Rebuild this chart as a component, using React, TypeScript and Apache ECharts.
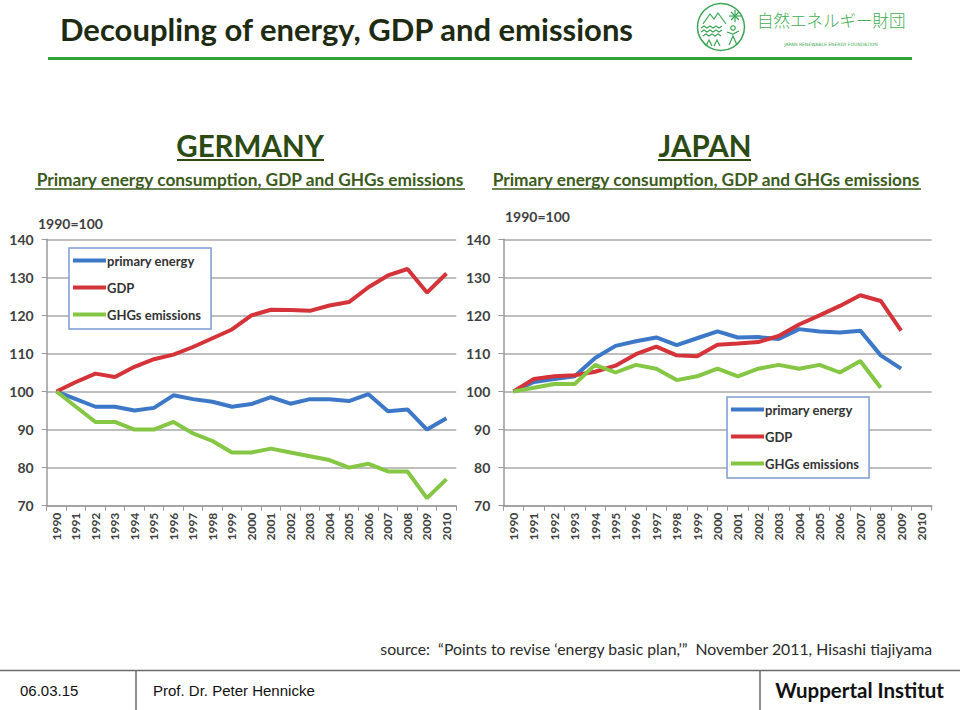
import React, { useEffect, useRef } from "react";
import * as echarts from "echarts";

const years = ["1990","1991","1992","1993","1994","1995","1996","1997","1998","1999","2000","2001","2002","2003","2004","2005","2006","2007","2008","2009","2010"];
const seriesNames = ["primary energy", "GDP", "GHGs emissions"];

const deEnergy = [100, 98, 96, 96, 95, 95.7, 99, 98, 97.3, 96, 96.7, 98.5, 96.8, 98, 98, 97.5, 99.3, 94.8, 95.3, 90, 93];
const deGdp = [100, 102.5, 104.7, 103.8, 106.5, 108.5, 109.7, 111.7, 114, 116.3, 120, 121.5, 121.4, 121.2, 122.6, 123.5, 127.4, 130.5, 132.2, 126, 131];
const deGhg = [100, 96, 92, 92, 90, 90, 92, 89, 87, 84, 84, 85, 84, 83, 82, 80, 81, 79, 79, 72, 77];

const jpEnergy = [100, 102.5, 103.3, 104, 108.8, 112, 113.2, 114.2, 112.2, 114, 115.8, 114.2, 114.3, 113.8, 116.4, 115.8, 115.5, 116, 109.5, 106, null];
const jpGdp = [100, 103.3, 104, 104.3, 105.2, 106.8, 109.8, 111.8, 109.5, 109.3, 112.3, 112.6, 113, 114.6, 117.6, 120, 122.5, 125.3, 123.8, 116, null];
const jpGhg = [100, 101, 102, 102, 107, 105, 107, 106, 103, 104, 106, 104, 106, 107, 106, 107, 105, 108, 101, null, null];

const yTicks = { min: 70, max: 140, interval: 10 };
const colors = ["#3d78c8", "#d4333a", "#85c645"];

const FONT = "Lato, 'Open Sans', sans-serif";
const labelColor = "#404040";

function makeGrid(left: number, width: number) {
  return { left, width, top: 239.3, height: 266.4, containLabel: false };
}

function xAxis(gridIndex: number) {
  return {
    type: "category",
    gridIndex,
    data: years,
    boundaryGap: true,
    axisLine: { show: true, lineStyle: { color: "#9a9a9a", width: 1.5 } },
    axisTick: { show: true, interval: 0, length: 5, lineStyle: { color: "#9a9a9a" } },
    axisLabel: { interval: 0, rotate: 90, fontFamily: FONT, fontWeight: "bold", fontSize: 12, color: labelColor, margin: 7 },
  };
}

function yAxis(gridIndex: number) {
  return {
    type: "value",
    gridIndex,
    min: yTicks.min,
    max: yTicks.max,
    interval: yTicks.interval,
    axisLine: { show: true, lineStyle: { color: "#9a9a9a", width: 1.5 } },
    axisTick: { show: true, length: 5, lineStyle: { color: "#9a9a9a" } },
    axisLabel: { fontFamily: FONT, fontWeight: "bold", fontSize: 14, color: labelColor, margin: 13 },
    splitLine: { show: true, lineStyle: { color: "#a8a8a8", width: 1.5 } },
  };
}

function lineSeries(name: string, data: (number | null)[], idx: number, color: string) {
  return {
    type: "line",
    name,
    xAxisIndex: idx,
    yAxisIndex: idx,
    data,
    symbol: "none",
    connectNulls: false,
    lineStyle: { color, width: 4 },
    itemStyle: { color },
    z: 3,
  };
}

function legend(id: string, left: number, top: number, suffix: string) {
  return {
    id,
    orient: "vertical",
    left,
    top,
    data: seriesNames.map((n) => n + suffix),
    formatter: (n: string) => (suffix ? n.slice(0, n.length - suffix.length) : n),
    icon: "rect",
    itemWidth: 33,
    itemHeight: 4,
    itemGap: 14,
    padding: [6, 10, 8, 4],
    backgroundColor: "#ffffff",
    borderColor: "#7a9cd3",
    borderWidth: 1.5,
    textStyle: { fontFamily: FONT, fontWeight: "bold", fontSize: 13, color: "#333333", padding: [0, 0, 0, -4] },
  };
}

function txt(x: number, y: number, text: string, font: string, fill: string, align = "left", vAlign = "middle") {
  return { type: "text", x, y, silent: true, style: { text, font, fill, textAlign: align, textVerticalAlign: vAlign } };
}

function hline(x1: number, x2: number, y: number, stroke: string, w: number) {
  return { type: "line", silent: true, shape: { x1, y1: y, x2, y2: y }, style: { stroke, lineWidth: w } };
}
function vline(x: number, y1: number, y2: number, stroke: string, w: number) {
  return { type: "line", silent: true, shape: { x1: x, y1, x2: x, y2 }, style: { stroke, lineWidth: w } };
}

export default function App() {
  const ref = useRef<HTMLDivElement>(null);
  useEffect(() => {
    if (!ref.current) return;
    const chart = echarts.init(ref.current, null, { renderer: "svg" });
    const logoGreen = "#3aa655";
    const option = {
      animation: false,
      backgroundColor: "#ffffff",
      grid: [makeGrid(46.7, 409.5), makeGrid(503.3, 428.4)],
      xAxis: [xAxis(0), xAxis(1)],
      yAxis: [yAxis(0), yAxis(1)],
      legend: [legend("de", 69, 248, ""), legend("jp", 727, 397, " ")],
      series: [
        lineSeries(seriesNames[0], deEnergy, 0, colors[0]),
        lineSeries(seriesNames[1], deGdp, 0, colors[1]),
        lineSeries(seriesNames[2], deGhg, 0, colors[2]),
        lineSeries(seriesNames[0] + " ", jpEnergy, 1, colors[0]),
        lineSeries(seriesNames[1] + " ", jpGdp, 1, colors[1]),
        lineSeries(seriesNames[2] + " ", jpGhg, 1, colors[2]),
      ],
      graphic: [
        // header
        txt(60, 29, "Decoupling of energy, GDP and emissions", `bold 31px ${FONT}`, "#1e2a12"),
        hline(48, 912, 58.5, "#2fa33a", 3),
        // logo
        { type: "circle", silent: true, shape: { cx: 721, cy: 27, r: 23.5 }, style: { fill: "none", stroke: logoGreen, lineWidth: 1.5 } },
        { type: "polyline", silent: true, shape: { points: [[703, 24], [710, 14], [714, 19], [718, 13], [726, 24]] }, style: { fill: "none", stroke: logoGreen, lineWidth: 1.2 } },
        { type: "polyline", silent: true, shape: { points: [[701, 28], [704, 26], [707, 28], [710, 26], [713, 28], [716, 26], [719, 28], [722, 26]] }, style: { fill: "none", stroke: logoGreen, lineWidth: 1.2 } },
        { type: "polyline", silent: true, shape: { points: [[701, 32], [704, 30], [707, 32], [710, 30], [713, 32], [716, 30], [719, 32], [722, 30]] }, style: { fill: "none", stroke: logoGreen, lineWidth: 1.2 } },
        { type: "polyline", silent: true, shape: { points: [[703, 36], [706, 34], [709, 36], [712, 34], [715, 36], [718, 34], [721, 36]] }, style: { fill: "none", stroke: logoGreen, lineWidth: 1.2 } },
        { type: "polyline", silent: true, shape: { points: [[706, 46], [709, 40], [712, 46]] }, style: { fill: "none", stroke: logoGreen, lineWidth: 1.2 } },
        { type: "polyline", silent: true, shape: { points: [[714, 46], [717, 40], [720, 46]] }, style: { fill: "none", stroke: logoGreen, lineWidth: 1.2 } },
        { type: "line", silent: true, shape: { x1: 735, y1: 10, x2: 735, y2: 22 }, style: { stroke: logoGreen, lineWidth: 1.2 } },
        { type: "line", silent: true, shape: { x1: 729, y1: 16, x2: 741, y2: 16 }, style: { stroke: logoGreen, lineWidth: 1.2 } },
        { type: "line", silent: true, shape: { x1: 731, y1: 12, x2: 739, y2: 20 }, style: { stroke: logoGreen, lineWidth: 1.2 } },
        { type: "line", silent: true, shape: { x1: 739, y1: 12, x2: 731, y2: 20 }, style: { stroke: logoGreen, lineWidth: 1.2 } },
        { type: "circle", silent: true, shape: { cx: 733, cy: 28, r: 2.2 }, style: { fill: "none", stroke: logoGreen, lineWidth: 1.2 } },
        { type: "polyline", silent: true, shape: { points: [[727, 32], [733, 34], [739, 31]] }, style: { fill: "none", stroke: logoGreen, lineWidth: 1.2 } },
        { type: "polyline", silent: true, shape: { points: [[729, 45], [733, 36], [737, 45]] }, style: { fill: "none", stroke: logoGreen, lineWidth: 1.2 } },
        txt(757, 20, "自然エネルギー財団", `300 16.5px 'Noto Sans CJK JP', sans-serif`, "#45ad55"),
        txt(831, 44, "JAPAN RENEWABLE ENERGY FOUNDATION", `4.5px 'DejaVu Sans', sans-serif`, "#45ad55", "center"),
        // panel headings
        txt(250, 145, "GERMANY", `bold 29.5px ${FONT}`, "#2c4a14", "center"),
        hline(177, 324, 160, "#2c4a14", 2),
        txt(250, 179, "Primary energy consumption, GDP and GHGs emissions", `bold 17.3px ${FONT}`, "#3b5a1c", "center"),
        hline(35, 465, 189, "#3b5a1c", 1.5),
        txt(705, 145, "JAPAN", `bold 29.5px ${FONT}`, "#2c4a14", "center"),
        hline(658, 751, 160, "#2c4a14", 2),
        txt(706, 179, "Primary energy consumption, GDP and GHGs emissions", `bold 17.3px ${FONT}`, "#3b5a1c", "center"),
        hline(492, 921, 189, "#3b5a1c", 1.5),
        txt(38, 223, "1990=100", `bold 14px ${FONT}`, "#404040"),
        txt(505, 216, "1990=100", `bold 14px ${FONT}`, "#404040"),
        // source
        txt(932, 648, "source:  \u201CPoints to revise \u2018energy basic plan,\u2019\u201D  November 2011, Hisashi tiajiyama", `15.8px ${FONT}`, "#2a2a2a", "right"),
        // footer
        hline(0, 960, 670.5, "#6a6a6a", 1.5),
        vline(136, 670, 710, "#6a6a6a", 1.5),
        vline(760, 670, 710, "#6a6a6a", 1.5),
        txt(20, 690, "06.03.15", `15px 'Liberation Sans Narrow', 'Liberation Sans', sans-serif`, "#111111"),
        txt(153, 690, "Prof. Dr. Peter Hennicke", `15px 'Liberation Sans Narrow', 'Liberation Sans', sans-serif`, "#111111"),
        txt(944, 690, "Wuppertal Institut", `bold 20.5px ${FONT}`, "#111111", "right"),
      ],
    };
    chart.setOption(option as any);
    return () => chart.dispose();
  }, []);
  return <div ref={ref} style={{ position: "fixed", left: 0, top: 0, width: 960, height: 710 }} />;
}
